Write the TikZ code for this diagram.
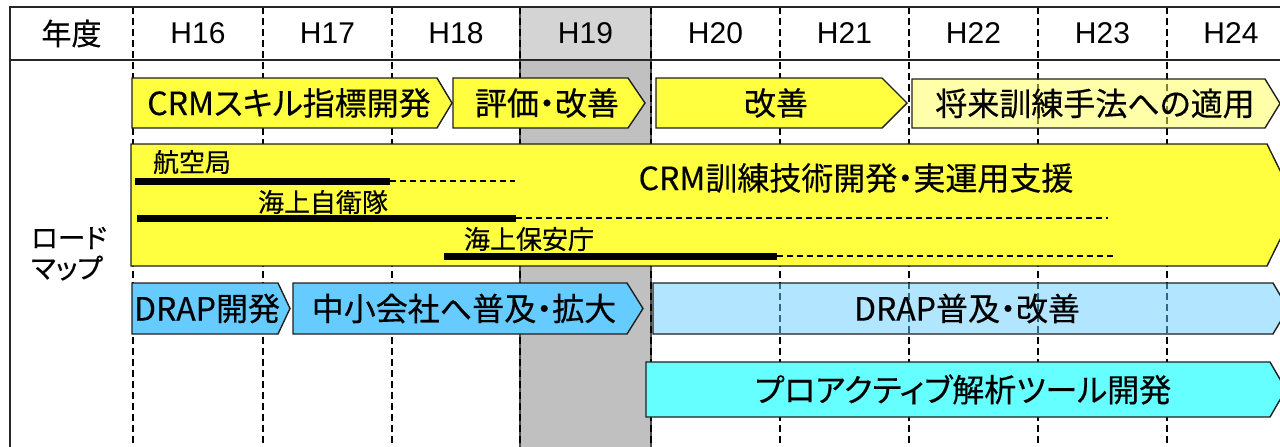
\documentclass[tikz,border=0pt]{standalone}
\usepackage{fontspec}
\setmainfont{Liberation Sans}
\newfontfamily\jp{Noto Sans CJK JP}[RawFeature=+palt,FakeBold=0.4]
\definecolor{ylw}{RGB}{255,255,64}
\definecolor{lylw}{RGB}{255,255,85}
\definecolor{sky}{RGB}{102,204,255}
\definecolor{cyn}{RGB}{102,255,255}
\definecolor{ghead}{RGB}{212,212,212}
\definecolor{gbody}{RGB}{192,192,192}
\begin{document}
\begin{tikzpicture}[x=1pt,y=-1pt,
  frame/.style={line width=2pt,black!85},
  gridline/.style={line width=2.2pt,dash pattern=on 7pt off 4pt,black},
  box/.style={draw=black!88,line width=1.4pt,line join=miter},
  hdr/.style={inner sep=0pt,font=\fontsize{30}{30}\selectfont},
  jhdr/.style={inner sep=0pt,font=\jp\fontsize{30}{30}\selectfont},
  lbl/.style={inner sep=0pt,font=\jp\fontsize{32}{32}\selectfont},
  small/.style={inner sep=0pt,font=\jp\fontsize{26}{26}\selectfont},
  side/.style={inner sep=0pt,font=\jp\fontsize{27.5}{27.5}\selectfont},
  thick bar/.style={line width=7pt,black},
  thin dash/.style={line width=2pt,dash pattern=on 6pt off 4pt,black}]
\useasboundingbox (0,0) rectangle (1280,447);
\fill[white] (0,0) rectangle (1280,447);
% highlighted year column
\fill[ghead] (520,7) rectangle (651,60);
\fill[gbody] (520,60) rectangle (651,447);
% grid
\foreach \x in {133,263,392,780,909,1038,1167}
  \draw[gridline] (\x,7) -- (\x,447);
\foreach \x in {520,651} {
  \draw[line width=1.6pt,black!70] (\x,7) -- (\x,447);
  \draw[gridline,line width=1.2pt] (\x,7) -- (\x,447);
}
\draw[frame] (10,447) -- (10,7) -- (1280,7);
\draw[frame] (10,60) -- (1280,60);
% header
\node[jhdr] (nendo) at (71.5,33.5) {年度};
\node[hdr] (h16) at (198,33.5) {H16};
\node[hdr] (h17) at (327.5,33.5) {H17};
\node[hdr] (h18) at (456,33.5) {H18};
\node[hdr] (h19) at (585.5,33.5) {H19};
\node[hdr] (h20) at (715.5,33.5) {H20};
\node[hdr] (h21) at (844.5,33.5) {H21};
\node[hdr] (h22) at (973.5,33.5) {H22};
\node[hdr] (h23) at (1102.5,33.5) {H23};
\node[hdr] (h24) at (1231,33.5) {H24};
% row label
\node[side,anchor=west] (rm1) at (31,238) {ロード};
\node[side,anchor=west] (rm2) at (31,268) {マップ};
% row 1
\draw[box,fill=ylw] (132,78) -- (437,78) -- (452,103) -- (437,128) -- (132,128) -- cycle;
\node[lbl] (crmskill) at (289,103) {CRMスキル指標開発};
\draw[box,fill=ylw] (453,78) -- (628,78) -- (645,103) -- (628,128) -- (453,128) -- cycle;
\node[lbl] (hyoka) at (547,103) {評価・改善};
\draw[box,fill=ylw] (656,78) -- (882,78) -- (907,103) -- (882,128) -- (656,128) -- cycle;
\node[lbl] (kaizen) at (776,103) {改善};
\draw[box,fill=lylw,fill opacity=0.5] (912,79) -- (1265,79) -- (1280,103.5) -- (1265,128) -- (912,128) -- cycle;
\node[lbl] (shorai) at (1095,103.5) {将来訓練手法への適用};
% big CRM arrow
\draw[box,fill=ylw] (131,144) -- (1267,144) -- (1297,205) -- (1267,266) -- (131,266) -- cycle;
\node[lbl] (crmtrain) at (856,178) {CRM訓練技術開発・実運用支援};
\node[small] (koku) at (192,162) {航空局};
\node[small] (jieitai) at (323,202) {海上自衛隊};
\node[small] (hoancho) at (529,239) {海上保安庁};
\coordinate (a1) at (135,181); \coordinate (a2) at (390,181); \coordinate (a3) at (515,181);
\coordinate (b1) at (137,218); \coordinate (b2) at (516,218); \coordinate (b3) at (1108,218);
\coordinate (c1) at (444,256); \coordinate (c2) at (777,256); \coordinate (c3) at (1113,256);
\draw[thick bar] (a1) -- (a2);
\draw[thin dash] (a2) -- (a3);
\draw[thick bar] (b1) -- (b2);
\draw[thin dash] (b2) -- (b3);
\draw[thick bar] (c1) -- (c2);
\draw[thin dash] (c2) -- (c3);
% DRAP row
\draw[box,fill=sky] (132,283) -- (278,283) -- (290,308.5) -- (278,334) -- (132,334) -- cycle;
\node[lbl] (drapdev) at (207,308.5) {DRAP開発};
\draw[box,fill=sky] (293,283) -- (627,283) -- (643,308.5) -- (627,334) -- (293,334) -- cycle;
\node[lbl] (fukyu) at (464,308.5) {中小会社へ普及・拡大};
\draw[box,fill=sky,fill opacity=0.5] (653,283) -- (1273,283) -- (1288,308.5) -- (1273,334) -- (653,334) -- cycle;
\node[lbl] (drapkai) at (967,308.5) {DRAP普及・改善};
% proactive row
\draw[box,fill=cyn] (646,362) -- (1270,362) -- (1286,389.5) -- (1270,417) -- (646,417) -- cycle;
\node[lbl] (proact) at (963,389.5) {プロアクティブ解析ツール開発};
\end{tikzpicture}
\end{document}
